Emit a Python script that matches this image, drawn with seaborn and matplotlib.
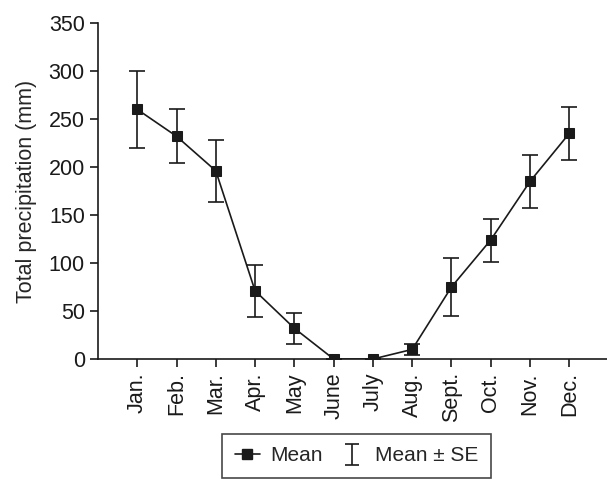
import numpy as np
import pandas as pd
import matplotlib.pyplot as plt
import seaborn as sns

months = ["Jan.", "Feb.", "Mar.", "Apr.", "May", "June", "July", "Aug.", "Sept.", "Oct.", "Nov.", "Dec."]
mean_mm = [260, 232, 196, 71, 32, 0, 0, 10, 75, 124, 185, 235]
se_low = [40, 28, 32, 27, 16, 0, 0, 6, 30, 23, 28, 28]
se_high = [40, 28, 32, 27, 16, 0, 0, 6, 30, 22, 27, 28]

df = pd.DataFrame({"month": months, "pos": np.arange(len(months)), "mean": mean_mm})

sns.set_style("ticks")
plt.rcParams["font.family"] = ["Liberation Sans", "DejaVu Sans"]

fig = plt.figure(figsize=(6.07, 4.79), dpi=100)
ax = fig.add_axes([0.1614, 0.2505, 0.8386, 0.7015])

ax.errorbar(df["pos"], df["mean"], yerr=[se_low, se_high], fmt="none",
            ecolor="#1a1a1a", elinewidth=1.2, capsize=6, capthick=1.2, zorder=2)
sns.lineplot(data=df, x="pos", y="mean", ax=ax, color="#1a1a1a", linewidth=1.2,
             marker="s", markersize=6.5, markeredgecolor="#1a1a1a", zorder=3)

ax.set_xlim(-1, 11.96)
ax.set_ylim(0, 350)
ax.set_yticks(range(0, 351, 50))
ax.set_xticks(df["pos"])
ax.set_xticklabels(months, rotation=90)
ax.set_xlabel("")
ax.set_ylabel("Total precipitation (mm)", fontsize=15.5, labelpad=8)
ax.tick_params(axis="both", labelsize=15.5, length=6, width=1.2, color="#1a1a1a", labelcolor="#1a1a1a")
for s in ["top", "right"]:
    ax.spines[s].set_visible(False)
for s in ["left", "bottom"]:
    ax.spines[s].set_linewidth(1.2)
    ax.spines[s].set_color("#1a1a1a")

# legend handles (dummy error bar placed outside the visible range)
h_mean, = ax.plot([], [], color="#1a1a1a", marker="s", markersize=6.5, linewidth=1.2)
h_se = ax.errorbar([-5], [100], yerr=[10], fmt="none", ecolor="#1a1a1a", elinewidth=1.2,
                   capsize=5, capthick=1.2)
leg = fig.legend([h_mean, h_se], ["Mean", "Mean ± SE"], ncol=2, loc="upper left",
                 bbox_to_anchor=(0.366, 0.094), borderaxespad=0, frameon=True, fancybox=False,
                 edgecolor="#1a1a1a", fontsize=15, handlelength=1.2, columnspacing=0.8,
                 handletextpad=0.5, borderpad=0.6)
leg.get_frame().set_linewidth(1.2)

fig.savefig("out.png", dpi=100)
